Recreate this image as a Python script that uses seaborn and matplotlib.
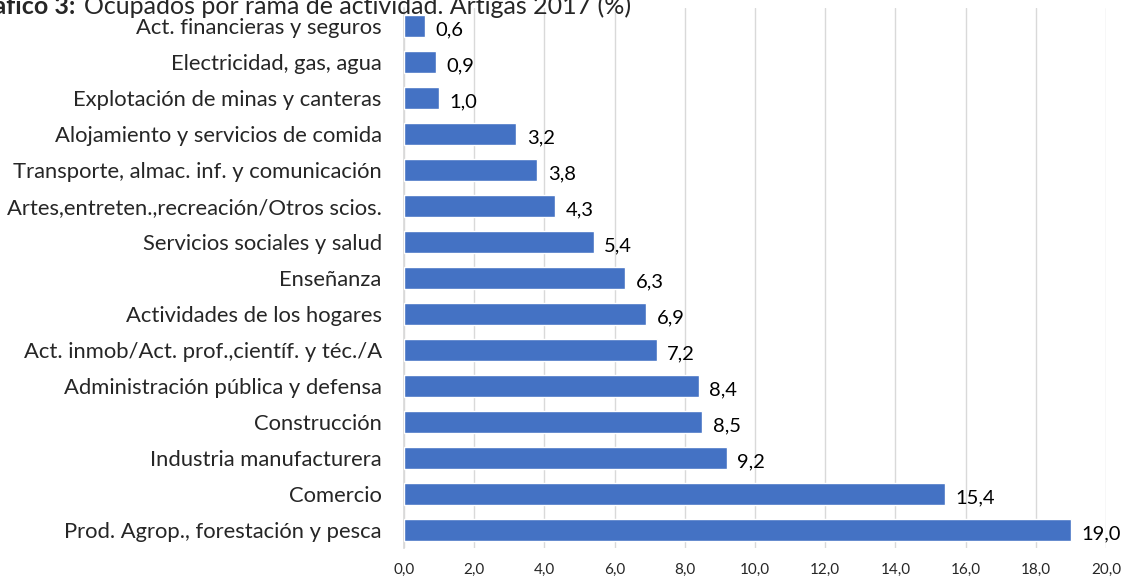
import matplotlib
matplotlib.use("Agg")
import matplotlib.pyplot as plt
import seaborn as sns
import pandas as pd

categories = [
    "Act. financieras y seguros",
    "Electricidad, gas, agua",
    "Explotación de minas y canteras",
    "Alojamiento y servicios de comida",
    "Transporte, almac. inf. y comunicación",
    "Artes,entreten.,recreación/Otros scios.",
    "Servicios sociales y salud",
    "Enseñanza",
    "Actividades de los hogares",
    "Act. inmob/Act. prof.,científ. y téc./A",
    "Administración pública y defensa",
    "Construcción",
    "Industria manufacturera",
    "Comercio",
    "Prod. Agrop., forestación y pesca",
]
values = [0.6, 0.9, 1.0, 3.2, 3.8, 4.3, 5.4, 6.3, 6.9, 7.2, 8.4, 8.5, 9.2, 15.4, 19.0]
xticks = [0, 2, 4, 6, 8, 10, 12, 14, 16, 18, 20]

df = pd.DataFrame({"rama": categories, "pct": values})

sns.set_theme(style="white")
plt.rcParams["font.family"] = ["Lato", "DejaVu Sans"]

fig = plt.figure(figsize=(11.24, 5.79), dpi=100)
ax = fig.add_axes([0.3594, 0.0535, 0.6246, 0.9325])

sns.barplot(data=df, x="pct", y="rama", color="#4472C4", width=0.6,
            saturation=1, ax=ax, zorder=3)

# value labels with comma decimals
for i, v in enumerate(values):
    ax.text(v + 0.3, i + 0.1, f"{v:.1f}".replace(".", ","), va="center",
            ha="left", fontsize=14.5, color="#000000")

ax.set_xlim(0, 20)
ax.set_xticks(xticks)
ax.set_xticklabels([f"{t:.1f}".replace(".", ",") for t in xticks], fontsize=11)
ax.tick_params(axis="x", length=4, color="#D9D9D9", pad=7)
ax.tick_params(axis="y", length=0, labelsize=15.8, pad=16)
ax.grid(axis="x", color="#D9D9D9", linewidth=1, zorder=0)
ax.set_xlabel("")
ax.set_ylabel("")
for s in ["top", "right", "bottom"]:
    ax.spines[s].set_visible(False)
ax.spines["left"].set_color("#D9D9D9")

# title sits partly outside the canvas, as in the source image
fig.text(75 / 1124, 1 - 6 / 579, "Gráfico 3:", fontsize=18, fontweight="bold",
         va="center", ha="right")
fig.text(84 / 1124, 1 - 6 / 579, "Ocupados por rama de actividad. Artigas 2017 (%)",
         fontsize=18, va="center", ha="left")

fig.savefig("out.png", dpi=100)
